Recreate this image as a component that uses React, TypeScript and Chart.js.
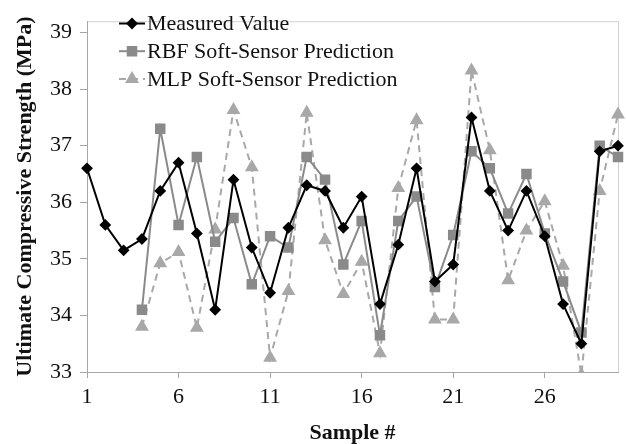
import React, { useEffect, useRef } from "react";
import { Chart, registerables } from "chart.js";
import { drawPoint } from "chart.js/helpers";

Chart.register(...registerables);

const samples = ["1","2","3","4","5","6","7","8","9","10","11","12","13","14","15","16","17","18","19","20","21","22","23","24","25","26","27","28","29","30"];
const measured = [36.6, 35.6, 35.15, 35.35, 36.2, 36.7, 35.45, 34.1, 36.4, 35.2, 34.4, 35.55, 36.3, 36.2, 35.55, 36.1, 34.2, 35.25, 36.6, 34.6, 34.9, 37.5, 36.2, 35.5, 36.2, 35.4, 34.2, 33.5, 36.9, 37.0];
const rbf = [null, null, null, 34.1, 37.3, 35.6, 36.8, 35.3, 35.72, 34.55, 35.4, 35.2, 36.8, 36.4, 34.9, 35.67, 33.65, 35.67, 36.1, 34.5, 35.42, 36.9, 36.6, 35.8, 36.5, 35.45, 34.6, 33.7, 37.0, 36.8];
const mlp = [null, null, null, 33.8, 34.92, 35.12, 33.78, 35.52, 37.63, 36.62, 33.25, 34.43, 37.58, 35.33, 34.38, 34.95, 33.33, 36.25, 37.45, 33.93, 33.93, 38.33, 36.92, 34.62, 35.5, 36.02, 34.88, 32.95, 36.2, 37.55];
const seriesNames = ["Measured Value", "RBF Soft-Sensor Prediction", "MLP Soft-Sensor Prediction"];
const yMin = 33;
const yMax = 39.2;
const xTitle = "Sample #";
const yTitle = "Ultimate Compressive Strength (MPa)";

const FONT = '"Liberation Serif", "Times New Roman", serif';

const frameAndLegend = {
  id: "frameAndLegend",
  beforeDraw(chart: any) {
    const { ctx, chartArea } = chart;
    ctx.save();
    ctx.strokeStyle = "#d2d2d2";
    ctx.lineWidth = 1;
    ctx.strokeRect(chartArea.left + 0.5, chartArea.top + 0.5, chartArea.right - chartArea.left, chartArea.bottom - chartArea.top);
    ctx.restore();
  },
  afterDraw(chart: any) {
    const { ctx } = chart;
    ctx.save();
    ctx.font = "22px " + FONT;
    ctx.textBaseline = "middle";
    const x0 = 119, x1 = 145, tx = 147, y0 = 23.5, step = 27.7;
    chart.data.datasets.forEach((ds: any, i: number) => {
      const y = y0 + i * step;
      ctx.strokeStyle = ds.borderColor;
      ctx.lineWidth = ds.borderWidth;
      ctx.setLineDash(ds.borderDash || []);
      ctx.beginPath();
      ctx.moveTo(x0, y);
      ctx.lineTo(x1, y);
      ctx.stroke();
      ctx.setLineDash([]);
      ctx.fillStyle = ds.pointBackgroundColor;
      ctx.strokeStyle = ds.pointBorderColor;
      drawPoint(ctx, { pointStyle: ds.pointStyle, radius: ds.pointRadius, rotation: 0, borderWidth: 1 }, (x0 + x1) / 2, y);
      ctx.fillStyle = "#111";
      ctx.fillText(ds.label, tx, y + 1);
    });
    ctx.restore();
  },
};

export default function App() {
  const ref = useRef<HTMLCanvasElement | null>(null);
  useEffect(() => {
    if (!ref.current) return;
    const chart = new Chart(ref.current, {
      type: "line",
      data: {
        labels: samples,
        datasets: [
          {
            label: seriesNames[0],
            data: measured,
            borderColor: "#000000",
            borderWidth: 2,
            pointStyle: "rectRot",
            pointRadius: 4.5,
            pointBackgroundColor: "#000000",
            pointBorderColor: "#000000",
            tension: 0,
          },
          {
            label: seriesNames[1],
            data: rbf,
            borderColor: "#8a8a8a",
            borderWidth: 2,
            pointStyle: "rect",
            pointRadius: 6,
            pointBackgroundColor: "#8a8a8a",
            pointBorderColor: "#8a8a8a",
            tension: 0,
            spanGaps: false,
          },
          {
            label: seriesNames[2],
            data: mlp,
            borderColor: "#a8a8a8",
            borderWidth: 2,
            borderDash: [7, 5],
            pointStyle: "triangle",
            pointRadius: 6,
            pointBackgroundColor: "#a8a8a8",
            pointBorderColor: "#a8a8a8",
            tension: 0,
          },
        ] as any,
      },
      options: {
        animation: false,
        responsive: false,
        devicePixelRatio: 1,
        layout: { padding: { top: 7, right: 7, left: 0, bottom: 0 } },
        plugins: { legend: { display: false }, tooltip: { enabled: false } },
        scales: {
          x: {
            type: "category",
            offset: false,
            afterFit: (s: any) => { s.height = 72; },
            grid: {
              drawOnChartArea: false,
              tickLength: 6,
              color: (c: any) => (c.index % 5 === 0 ? "#a6a6a6" : "rgba(0,0,0,0)"),
            },
            border: { color: "#a6a6a6", width: 1 },
            ticks: {
              autoSkip: false,
              maxRotation: 0,
              padding: 6,
              color: "#111",
              font: { family: FONT, size: 22 },
              callback: (_v: any, i: number) => (i % 5 === 0 ? samples[i] : ""),
            },
            title: {
              display: true,
              text: xTitle,
              color: "#111",
              font: { family: FONT, size: 22, weight: "bold", lineHeight: 1 },
              padding: { top: 0, bottom: 0 },
            },
          },
          y: {
            type: "linear",
            min: yMin,
            max: yMax,
            afterFit: (s: any) => { s.width = 87; },
            grid: { drawOnChartArea: false, tickLength: 7, color: "#a6a6a6" },
            border: { color: "#a6a6a6", width: 1 },
            ticks: {
              stepSize: 1,
              includeBounds: false,
              padding: 8,
              color: "#111",
              font: { family: FONT, size: 22 },
            },
            title: {
              display: true,
              text: yTitle,
              color: "#111",
              font: { family: FONT, size: 22, weight: "bold", lineHeight: 1 },
              padding: { top: 14, bottom: 0 },
            },
          },
        },
      } as any,
      plugins: [frameAndLegend],
    });
    return () => chart.destroy();
  }, []);
  return (
    <div style={{ position: "absolute", left: 0, top: 0, width: 626, height: 444, background: "#fff" }}>
      <canvas ref={ref} width={626} height={444} style={{ display: "block" }} />
    </div>
  );
}
